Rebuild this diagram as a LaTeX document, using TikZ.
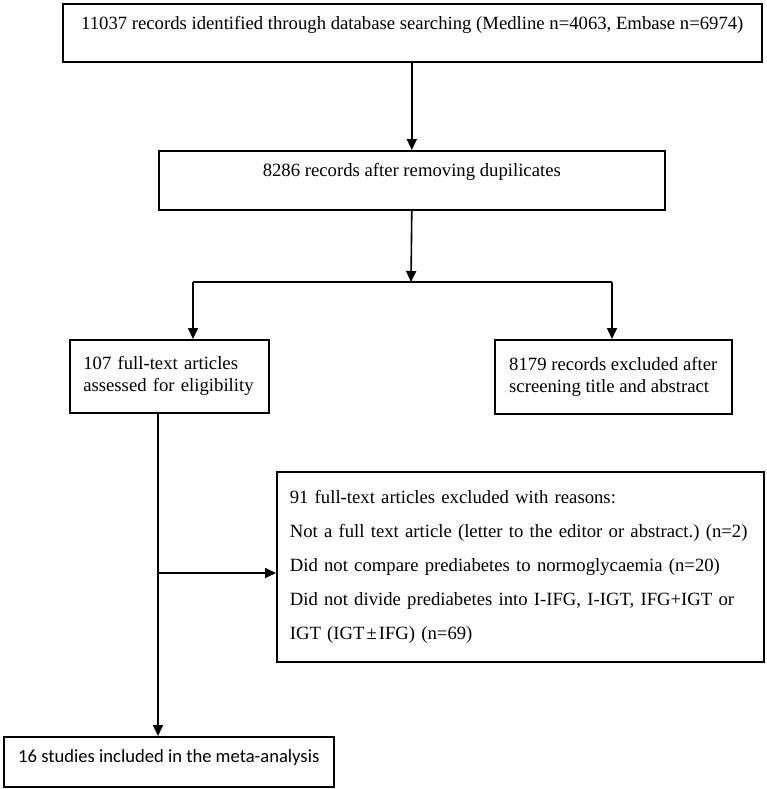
\documentclass[tikz,border=0pt]{standalone}
\usepackage{fontspec}
\setmainfont{Liberation Serif}
\newfontfamily\carlitofont{Carlito}
\usetikzlibrary{arrows.meta}
\frenchspacing
\begin{document}
\begin{tikzpicture}[x=1pt,y=-1pt,
  box/.style={draw, line width=1.6pt, anchor=north west, inner sep=0pt},
  ln/.style={line width=1.6pt},
  arr/.style={line width=1.6pt, -{Triangle[length=11pt,width=10pt]}},
  font=\fontsize{18.7}{22}\selectfont]
\fill[white] (0,0) rectangle (767,789);
\useasboundingbox (0,0) rectangle (767,789);

\node[box, minimum width=699pt, text height=26pt, text depth=32pt] (b1) at (62,3)
  {11037 records identified through database searching (Medline n=4063, Embase n=6974)};
\node[box, minimum width=506pt, text height=26pt, text depth=33pt] (b2) at (158,150)
  {8286 records after removing dupilicates};
\node[box, minimum width=199pt, minimum height=73pt, text width=172pt, align=left] (b3) at (69,339)
  {107 full-text articles\\assessed for eligibility};
\node[box, minimum width=237pt, minimum height=74pt, align=left] (b4) at (494,339)
  {8179 records excluded after\\screening title and abstract};
\node[box, minimum width=487pt, minimum height=190pt, text width=461pt, align=left,
  font=\fontsize{18.7}{34}\selectfont] (b5) at (276,471)
  {91 full-text articles excluded with reasons:\\
   Not a full text article (letter to the editor or abstract.) (n=2)\\
   Did not compare prediabetes to normoglycaemia (n=20)\\
   Did not divide prediabetes into I-IFG, I-IGT, IFG+IGT or\\
   IGT (IGT\hspace{2pt}±\hspace{2pt}IFG) (n=69)};
\node[box, minimum width=330pt, text height=26pt, text depth=24pt, font=\carlitofont\fontsize{18.6}{22}\selectfont] (b6) at (3,736)
  {16 studies included in the meta-analysis};

\coordinate (j) at (411,282);
\coordinate (j3) at (193,282);
\coordinate (j4) at (612,282);
\coordinate (v) at (158,0);
\coordinate (h) at (158,573);

\draw[arr] (b2.north |- b1.south) -- (b2.north);
\draw[arr] (b2.south) -- (j);
\draw[ln] (j3) -- (j4);
\draw[arr] (j3) -- (j3 |- b3.north);
\draw[arr] (j4) -- (j4 |- b4.north);
\draw[arr] (v |- b3.south) -- (v |- b6.north);
\draw[arr] (h) -- (h -| b5.west);
\end{tikzpicture}
\end{document}
